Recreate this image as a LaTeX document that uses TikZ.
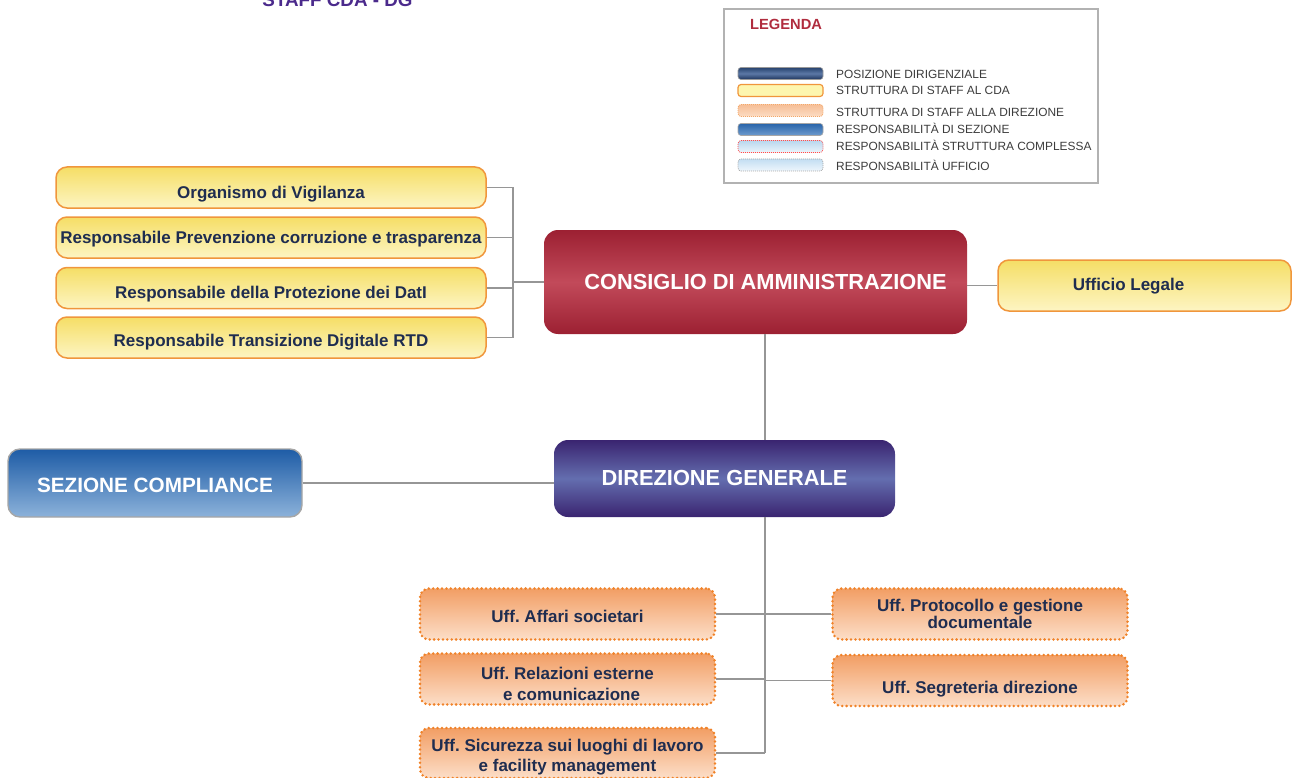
\documentclass[tikz,border=0pt]{standalone}
\usepackage{fontspec}
\setmainfont{Liberation Sans}
\frenchspacing
\definecolor{navytxt}{RGB}{31,45,80}
\definecolor{connc}{RGB}{150,150,150}
\definecolor{yelTop}{RGB}{245,222,102}
\definecolor{yelBot}{RGB}{253,245,195}
\definecolor{yelEdge}{RGB}{240,150,60}
\definecolor{orTop}{RGB}{242,158,100}
\definecolor{orBot}{RGB}{252,222,200}
\definecolor{orEdge}{RGB}{240,130,40}
\definecolor{cdaDark}{RGB}{156,32,50}
\definecolor{cdaMid}{RGB}{194,74,90}
\definecolor{dgDark}{RGB}{58,36,112}
\definecolor{dgMid}{RGB}{100,110,175}
\definecolor{scTop}{RGB}{30,92,166}
\definecolor{scBot}{RGB}{140,178,218}
\definecolor{legRed}{RGB}{176,44,62}
\definecolor{legTxt}{RGB}{60,60,60}
\definecolor{staffPurple}{RGB}{75,42,140}
% legend swatch colours
\definecolor{dirTop}{RGB}{38,66,110}
\definecolor{dirMid}{RGB}{92,120,166}
\definecolor{dirBot}{RGB}{30,52,92}
\definecolor{cdaSw}{RGB}{253,246,175}
\definecolor{dirStTop}{RGB}{246,190,150}
\definecolor{dirStBot}{RGB}{252,220,195}
\definecolor{secTop}{RGB}{40,100,170}
\definecolor{secBot}{RGB}{110,155,205}
\definecolor{cmpTop}{RGB}{185,215,238}
\definecolor{cmpBot}{RGB}{235,245,252}
\definecolor{ufTop}{RGB}{195,222,242}
\definecolor{ufBot}{RGB}{238,246,252}
\begin{document}
\begin{tikzpicture}[x=1pt,y=-1pt,
  conn/.style={draw=connc,line width=1.3pt},
  % text height = twice the drop of the baseline below the box centre
  capmid/.style={text height=#1,text depth=0pt},
  capmid/.default=12.2pt,
  yelbox/.style={draw=yelEdge,line width=1.5pt,rounded corners=11pt,
    top color=yelTop,bottom color=yelBot,minimum width=430pt,minimum height=41pt,
    text=navytxt,font=\fontsize{17}{19}\selectfont\bfseries,inner sep=0pt},
  orbox/.style={draw=orEdge,line width=2.8pt,dash pattern=on 0pt off 4.4pt,line cap=round,
    rounded corners=9pt,top color=orTop,bottom color=orBot,minimum width=295pt,minimum height=51pt,
    text=navytxt,font=\fontsize{17}{21}\selectfont\bfseries,align=center,inner sep=0pt},
  ortext/.style={text=navytxt,font=\fontsize{17}{20.5}\selectfont\bfseries,align=center,inner sep=0pt},
  bigbox/.style={rounded corners=14pt,text=white,font=\fontsize{21.8}{24}\selectfont\bfseries,inner sep=0pt},
  legbar/.style={rounded corners=3pt,minimum width=85pt,minimum height=12pt,inner sep=0pt},
  legtext/.style={anchor=west,text=legTxt,font=\fontsize{11.9}{13}\selectfont,inner sep=0pt}
]
\useasboundingbox (0,0) rectangle (1292,778);

% heading, partly cut off at the top edge
\node[anchor=base,text=staffPurple,font=\fontsize{18.8}{20}\selectfont\bfseries,inner sep=0pt] (staff) at (337.5,7) {STAFF CDA - DG};

% legend
\node[draw=black!30,line width=1.2pt,minimum width=374pt,minimum height=174pt,inner sep=0pt] (legend) at (911,96) {};
\node[anchor=west,text=legRed,font=\fontsize{14.7}{16}\selectfont\bfseries,inner sep=0pt,capmid=10.5pt] (legtitle) at (750,24) {LEGENDA};
\node[legbar,draw=black!40,line width=0.6pt,top color=dirTop,bottom color=dirBot,middle color=dirMid] (lb1) at (780.5,73.5) {};
\node[legbar,draw=yelEdge,line width=1.2pt,fill=cdaSw] (lb2) at (780.5,90.5) {};
\node[legbar,draw=orEdge!70,line width=0.8pt,dash pattern=on 1pt off 1pt,top color=dirStTop,bottom color=dirStBot] (lb3) at (780.5,110.5) {};
\node[legbar,draw=black!35,line width=0.6pt,top color=secTop,bottom color=secBot] (lb4) at (780.5,129.5) {};
\node[legbar,draw=red!70,line width=0.7pt,dash pattern=on 1pt off 1pt,top color=cmpTop,bottom color=cmpBot] (lb5) at (780.5,146.5) {};
\node[legbar,draw=black!35,line width=0.7pt,dash pattern=on 1pt off 1pt,top color=ufTop,bottom color=ufBot] (lb6) at (780.5,165) {};
\node[legtext,capmid=8.5pt] (lt1) at (836,74) {POSIZIONE DIRIGENZIALE};
\node[legtext,capmid=8.5pt] (lt2) at (836,90.5) {STRUTTURA DI STAFF AL CDA};
\node[legtext,capmid=8.5pt] (lt3) at (836,112.5) {STRUTTURA DI STAFF ALLA DIREZIONE};
\node[legtext,capmid=8.5pt] (lt4) at (836,129.5) {RESPONSABILITÀ DI SEZIONE};
\node[legtext,capmid=8.5pt] (lt5) at (836,146) {RESPONSABILITÀ STRUTTURA COMPLESSA};
\node[legtext,capmid=8.5pt] (lt6) at (836,166) {RESPONSABILITÀ UFFICIO};

% board of directors and its staff
\node[bigbox,capmid=15.6pt,top color=cdaDark,bottom color=cdaDark,middle color=cdaMid,minimum width=423pt,minimum height=104pt] (cda) at (755.5,282) {\hspace*{20pt}CONSIGLIO DI AMMINISTRAZIONE};
\node[yelbox,capmid=21.2pt] (ov) at (271,187.5) {Organismo di Vigilanza};
\node[yelbox,capmid=11.2pt] (rpct) at (271,237.5) {Responsabile Prevenzione corruzione e trasparenza};
\node[yelbox,capmid=20.2pt] (dpo) at (271,288) {Responsabile della Protezione dei DatI};
\node[yelbox,capmid=17.2pt] (rtd) at (271,337.5) {Responsabile Transizione Digitale RTD};
\node[yelbox,capmid=9.2pt,minimum width=293pt,minimum height=51pt] (legale) at (1144.5,285.5) {\hspace*{-32pt}Ufficio Legale};

% general management
\node[bigbox,capmid=13.6pt,top color=dgDark,bottom color=dgDark,middle color=dgMid,minimum width=341pt,minimum height=77pt] (dg) at (724.5,478.5) {DIREZIONE GENERALE};
\node[bigbox,capmid=19.2pt,font=\fontsize{20.7}{23}\selectfont\bfseries,rounded corners=12pt,draw=black!35,line width=1.4pt,top color=scTop,bottom color=scBot,minimum width=294pt,minimum height=68pt] (sc) at (155,483) {SEZIONE COMPLIANCE};

% offices under the general management
\node[orbox,capmid=16.2pt] (aff) at (567.5,614) {Uff. Affari societari};
\node[orbox] (rel) at (567.5,679) {};
\node[ortext] (relt) at (567.5,684) {Uff. Relazioni esterne\\\hspace*{8pt}e comunicazione};
\node[orbox,minimum height=50pt] (sic) at (567.5,753) {};
\node[ortext,font=\fontsize{17}{20}\selectfont\bfseries] (sict) at (567.5,757.5) {Uff. Sicurezza sui luoghi di lavoro\\e facility management};
\node[orbox,font=\fontsize{17}{14}\selectfont\bfseries] (prot) at (980,614) {Uff. Protocollo e gestione\\documentale};
\node[orbox,capmid=25.2pt] (segr) at (980,680.5) {Uff. Segreteria direzione};

% connectors
\coordinate (jl) at (513,282);
\coordinate (trunk) at (765,753);
\foreach \b in {ov,rpct,dpo,rtd} \draw[conn] (\b.east) -| (jl);
\draw[conn] (jl) -- (cda.west);
\draw[conn] (cda.east |- legale.west) -- (legale.west);
\draw[conn] (cda.south -| trunk) -- (dg.north -| trunk);
\draw[conn] (dg.south -| trunk) -- (trunk);
\draw[conn] (sc.east) -- (dg.west |- sc.east);
\foreach \b in {aff,rel,sic} \draw[conn] (\b.east) -- (\b.east -| trunk);
\foreach \b in {prot,segr} \draw[conn] (\b.west) -- (\b.west -| trunk);
\end{tikzpicture}
\end{document}
